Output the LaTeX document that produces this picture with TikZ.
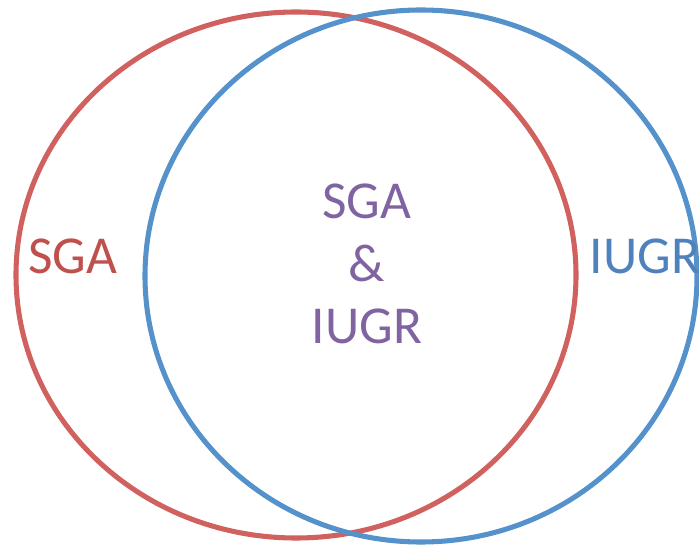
\documentclass[tikz,border=0pt]{standalone}
\usepackage{fontspec}
\setmainfont{Carlito}
\definecolor{sgared}{HTML}{C0504D}
\definecolor{sgaring}{HTML}{D0615F}
\definecolor{iugrblue}{HTML}{4F81BD}
\definecolor{iugrring}{HTML}{5592CB}
\definecolor{bothpurple}{HTML}{8064A2}
\tikzset{every picture/.style={line width=0.75pt}}
\begin{document}
\begin{tikzpicture}[x=0.75pt,y=0.75pt,yscale=-1,xscale=1]
        \useasboundingbox (0,0) rectangle (699,548);
        \clip (0,0) rectangle (699,548);
        
        %Shape: Ellipse [id:sga]
        \draw [color=sgaring, line width=3.8pt] (296,275) ellipse [x radius=280, y radius=263];
        %Shape: Ellipse [id:iugr]
        \draw [color=iugrring, line width=3.8pt] (421,276) ellipse [x radius=276, y radius=266];
        
        % Text Node
        \node [color=sgared, font=\fontsize{40}{47}\selectfont] (sgalabel) at (73,256) {SGA};
        % Text Node
        \node [color=iugrblue, font=\fontsize{40}{47}\selectfont, anchor=west] (iugrlabel) at (585,256) {IUGR};
        % Text Node
        \node [color=bothpurple, font=\fontsize{40}{47}\selectfont, align=center] (bothlabel) at (367,264) {SGA\\\&\\IUGR};
        
\end{tikzpicture}
\end{document}
